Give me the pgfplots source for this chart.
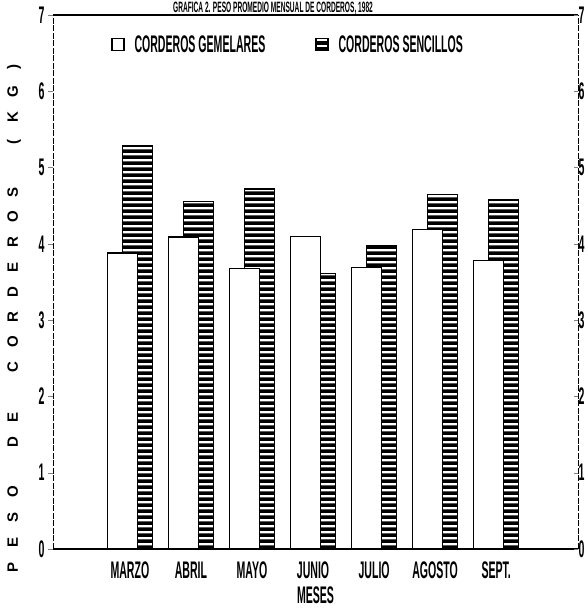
\documentclass[border=0pt]{standalone}
\usepackage{fontspec}
\setmainfont{Liberation Sans}[FakeStretch=0.44]
\newfontfamily\plainfont{Liberation Sans}
\usepackage{pgfplots}
\pgfplotsset{compat=1.18}
\usetikzlibrary{patterns.meta}
\tikzdeclarepattern{
  name=hstripes,
  type=uncolored,
  bounding box={(0pt,0pt) and (60pt,6pt)},
  tile size={(60pt,6pt)},
  code={\fill (0pt,0pt) rectangle (60pt,4.2pt);}
}
\newcommand\cf{\fontsize{24}{26}\selectfont\bfseries}
\newcommand\lb[1]{\makebox[25pt]{#1}}
\begin{document}
\begin{tikzpicture}
\path[use as bounding box] (-53pt,-60pt) rectangle (534pt,549pt);
\begin{axis}[
  scale only axis, width=525pt, height=534pt,
  xmin=-1.26, xmax=7.34, ymin=0, ymax=7,
  separate axis lines,
  x axis line style={line width=1.6pt},
  y axis line style={line width=0.7pt, dash pattern=on 6pt off 1.5pt},
  xtick={0,...,6},
  xticklabels={MARZO,ABRIL,MAYO,JUNIO,JULIO,AGOSTO,SEPT.},
  x tick style={draw=none},
  xticklabel style={font=\cf, yshift=-4pt},
  ytick={0,...,7}, ytick pos=left, tick align=outside, major tick length=5pt,
  yticklabel style={font=\cf},
  /pgf/number format/assume math mode=true,
  xlabel={MESES}, xlabel style={font=\cf, yshift=-1pt},
  legend style={at={(0.105,0.944)}, anchor=west, draw=none, fill=none,
    legend columns=2, font=\cf,
    /tikz/every odd column/.append style={column sep=8pt},
    /tikz/every even column/.append style={column sep=48pt}},
  legend image code/.code={\draw[#1, line width=1.2pt] (0pt,-6pt) rectangle (12pt,6pt);},
]
\addplot[ybar, forget plot, bar width=30pt, bar shift=7.5pt, draw=black, line width=1.2pt,
  pattern=hstripes, pattern color=black]
  coordinates {(0,5.29) (1,4.55) (2,4.72) (3,3.61) (4,3.98) (5,4.65) (6,4.58)};
\addplot[ybar, forget plot, bar width=30pt, bar shift=-7.5pt, draw=black, line width=1.2pt,
  fill=white]
  coordinates {(0,3.88) (1,4.09) (2,3.68) (3,4.10) (4,3.69) (5,4.19) (6,3.78)};
\addlegendimage{draw=black, fill=white}
\addlegendentry{CORDEROS GEMELARES}
\addlegendimage{draw=black, pattern=hstripes, pattern color=black}
\addlegendentry{CORDEROS SENCILLOS}
\end{axis}
\begin{axis}[
  scale only axis, width=525pt, height=534pt,
  xmin=0, xmax=1, ymin=0, ymax=7,
  axis x line=none, axis y line*=right,
  y axis line style={draw=none},
  ytick={0,...,7}, tick align=inside, major tick length=4pt,
  yticklabel style={font=\cf, xshift=-3pt},
  /pgf/number format/assume math mode=true,
]
\addplot[draw=none] coordinates {(0,0) (1,1)};
\end{axis}
\node[font=\fontsize{15}{17}\selectfont\bfseries, anchor=base] at (220pt,536pt)
  {GRAFICA 2. PESO PROMEDIO MENSUAL DE CORDEROS, 1982};
\node[rotate=90, font=\plainfont\fontsize{15}{16}\selectfont\bfseries] at (-39pt,232pt)
  {\lb{P}\lb{E}\lb{S}\lb{O}\lb{}\lb{D}\lb{E}\lb{}\lb{C}\lb{O}\lb{R}\lb{D}\lb{E}\lb{R}\lb{O}\lb{S}\lb{}\lb{(}\lb{K}\lb{G}\lb{)}};
\end{tikzpicture}
\end{document}
